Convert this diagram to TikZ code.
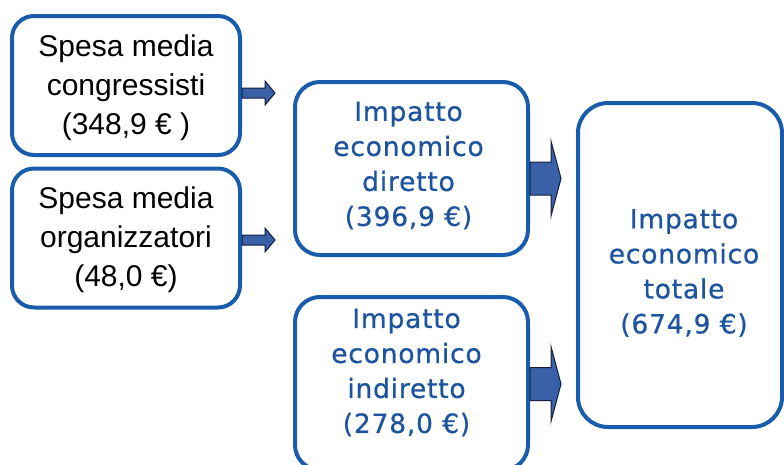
\documentclass[tikz,border=0pt]{standalone}
\usepackage{fontspec}
\setmainfont{Liberation Sans}
\newfontfamily\rightfont[LetterSpace=3,FakeBold=0.6]{DejaVu Sans}
\usetikzlibrary{calc}
\definecolor{boxblue}{RGB}{25,92,172}
\definecolor{textblue}{RGB}{28,84,160}
\definecolor{arrfill}{RGB}{58,96,168}
\definecolor{arrline}{RGB}{22,32,62}
\tikzset{
  boxbase/.style={draw=boxblue, line width=4pt, fill=white, inner sep=0pt},
  leftbox/.style={boxbase, rounded corners=22pt, minimum width=228pt, minimum height=139pt},
  midbox/.style={boxbase, rounded corners=25pt, minimum width=233pt, minimum height=173pt},
  bigbox/.style={boxbase, rounded corners=30pt, minimum width=204pt, minimum height=324pt},
  lefttext/.style={align=center, inner sep=0pt, font=\fontsize{30}{39}\selectfont},
  bluetext/.style={align=center, inner sep=0pt, text=textblue, font=\rightfont\fontsize{26.5}{35}\selectfont},
  pics/blockarr/.style n args={4}{code={
    \filldraw[fill=arrfill, draw=arrline, line width=1pt, line join=miter]
      (0,-#2) -- (#1-#4,-#2) -- (#1-#4,-#3) -- (#1,0) -- (#1-#4,#3) -- (#1-#4,#2) -- (0,#2) -- cycle;
  }}
}
\begin{document}
\begin{tikzpicture}[x=1pt,y=-1pt]
\clip (0,0) rectangle (784,464);
\fill[white] (0,0) rectangle (784,464);
% boxes
\node[leftbox] (b1) at (126,85.5) {};
\node[leftbox] (b2) at (126,238) {};
\node[midbox] (b3) at (411.5,168.5) {};
\node[midbox] (b4) at (411.5,383.5) {};
\node[bigbox] (b5) at (680,265) {};
% texts
\node[lefttext] (t1) at ($(b1.center)+(0,2)$) {Spesa media\\congressisti\\(348,9 € )};
\node[lefttext] (t2) at ($(b2.center)+(0,2)$) {Spesa media\\organizzatori\\(48,0 €)};
\node[bluetext] (t3) at ($(b3.center)+(-3,-3)$) {Impatto\\economico\\diretto\\(396,9 €)};
\node[bluetext] (t4) at ($(b4.center)+(-5,-11)$) {Impatto\\economico\\indiretto\\(278,0 €)};
\node[bluetext] (t5) at ($(b5.center)+(4,8)$) {Impatto\\economico\\totale\\(674,9 €)};
% arrows
\pic at ($(b1.east)+(0,7.5)$) {blockarr={33}{5}{12}{10}};
\pic at ($(b2.east)+(0,2)$) {blockarr={33}{5}{12}{10}};
\pic at ($(b3.east)+(0,10)$) {blockarr={31}{16.5}{37.5}{10}};
\pic at ($(b4.east)+(0,0.5)$) {blockarr={31}{16.5}{37.5}{10}};
\end{tikzpicture}
\end{document}
